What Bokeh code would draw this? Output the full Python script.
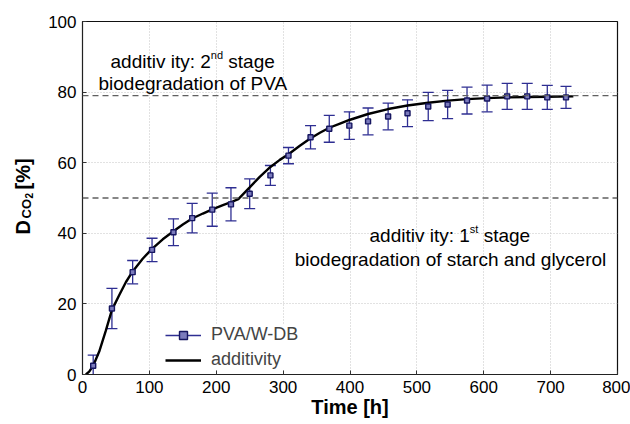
import math
from bokeh.plotting import figure
from bokeh.layouts import row
from bokeh.models import Label, Span, Legend, LegendItem, FixedTicker, Range1d
from bokeh.core.properties import value
from bokeh.embed import file_html
from bokeh.resources import INLINE

# ---- data ----
hours = [16, 44, 75, 104, 136, 164, 194, 222, 250, 281, 308, 341, 369, 399, 427,
         457, 486, 517, 546, 575, 605, 635, 665, 695, 723]
dco2 = [2.5, 18.7, 29.0, 35.3, 40.3, 44.3, 46.7, 48.2, 51.2, 56.4, 62.0, 67.2, 69.6,
        70.5, 71.7, 73.1, 74.0, 75.9, 76.5, 77.6, 78.2, 78.8, 78.8, 78.5, 78.5]
dco2_err = [3.0, 5.7, 3.3, 3.3, 3.8, 4.2, 4.7, 4.7, 4.2, 2.8, 2.3, 3.3, 3.8, 3.9, 3.8,
            3.8, 3.8, 4.0, 4.0, 3.8, 3.8, 3.7, 3.7, 3.4, 3.1]

add_t = [5, 10, 16, 25, 35, 44, 55, 65, 75, 90, 104, 120, 136, 150, 164, 180, 194,
         210, 222, 233, 250, 265, 281, 295, 308, 325, 340, 355, 369, 385, 399, 427,
         457, 486, 517, 546, 575, 605, 635, 665, 695, 734]
add_v = [0.0, 0.8, 2.5, 6.5, 12.5, 18.3, 22.5, 26.2, 29.2, 32.8, 35.6, 38.3, 40.6,
         42.5, 44.2, 45.6, 46.8, 48.0, 48.8, 49.7, 53.0, 56.0, 58.8, 60.8, 62.4,
         64.8, 66.8, 68.5, 69.9, 71.1, 72.1, 73.8, 75.2, 76.2, 77.0, 77.6, 78.0,
         78.3, 78.5, 78.6, 78.7, 78.8]

stage_levels = [79, 50]
x_ticks = [0, 100, 200, 300, 400, 500, 600, 700, 800]
y_ticks = [0, 20, 40, 60, 80, 100]

FONT = "Liberation Sans"
NAVY = "#2e2e92"
LW = 40  # width of the strip holding the y-axis title

p = figure(width=630 - LW, height=424, x_range=(0, 800), y_range=(0, 100),
           output_backend="svg", toolbar_location=None,
           min_border_left=82 - LW, min_border_right=13, min_border_top=21,
           min_border_bottom=50)
p.background_fill_color = "white"
p.border_fill_color = "white"
p.outline_line_color = "#111111"
p.outline_line_width = 1.2

for ax, ticks in ((p.xaxis, x_ticks), (p.yaxis, y_ticks)):
    ax.ticker = FixedTicker(ticks=ticks)
    ax.major_tick_in = 4
    ax.major_tick_out = 0
    ax.minor_tick_line_color = None
    ax.major_label_text_font = FONT
    ax.major_label_text_font_size = "17px"
    ax.major_label_text_color = "black"
    ax.major_label_standoff = 6
    ax.axis_line_color = "#222222"
    ax.major_tick_line_color = "#333333"

p.xaxis.axis_label = "Time [h]"
p.xaxis.axis_label_text_font = FONT
p.xaxis.axis_label_text_font_size = "20px"
p.xaxis.axis_label_text_font_style = "bold"
p.xaxis.axis_label_text_color = "black"
p.xaxis.axis_label_standoff = 0

p.xgrid.ticker = FixedTicker(ticks=x_ticks)
p.ygrid.ticker = FixedTicker(ticks=y_ticks)
for g in (p.xgrid, p.ygrid):
    g.grid_line_color = "#c4c4c4"
    g.grid_line_dash = "1 2"
    g.grid_line_width = 1

for lvl in stage_levels:
    p.add_layout(Span(location=lvl, dimension="width", line_color="#606060",
                      line_dash="6 4", line_width=1.3))

lo = [v - e for v, e in zip(dco2, dco2_err)]
hi = [v + e for v, e in zip(dco2, dco2_err)]

stem_r = p.segment(x0=hours, y0=lo, x1=hours, y1=hi, line_color=NAVY, line_width=1.3)
p.scatter(hours, hi, marker="dash", size=11, line_color=NAVY, line_width=1.3)
p.scatter(hours, lo, marker="dash", size=11, line_color=NAVY, line_width=1.3)
line_r = p.line(add_t, add_v, line_color="black", line_width=2.4)
mark_r = p.scatter(hours, dco2, marker="square", size=5, line_color="#161660",
                   line_width=1.4, fill_color="#7a7abc")

legend = Legend(items=[LegendItem(label="PVA/W-DB", renderers=[stem_r, mark_r]),
                       LegendItem(label="additivity", renderers=[line_r])],
                location=(83, 4), border_line_color=None, background_fill_color="white",
                background_fill_alpha=1.0, label_text_font=FONT,
                label_text_font_size="18px", glyph_width=36, glyph_height=20,
                label_height=20, label_standoff=10, padding=0, spacing=4, margin=0)
p.add_layout(legend)

# page pixel -> data helpers for text placement (frame 82..617 x, 21..374 y)
def dx(px):
    return (px - 82) / (535 / 800)

def dy(py):
    return (374 - py) / (353 / 100)

def lab(text, px, py, size, x_offset=0.0, align="left"):
    p.add_layout(Label(x=dx(px), y=dy(py), text=text, text_font=FONT,
                       text_font_size=f"{size}px", text_align=align,
                       text_baseline="alphabetic", x_offset=x_offset,
                       text_color="black"))

M, S = 19, 11
w_main = 5.28 * M
w_space = 0.278 * M
# 2nd stage text
lab("additiv ity: 2", 110, 61, M)
lab("nd", 110, 54, S, x_offset=w_main)
lab("stage", 110, 61, M, x_offset=w_main + 1.112 * S + w_space)
lab("biodegradation of PVA", 98, 83, M)
# 1st stage text
lab("additiv ity: 1", 369, 235, M)
lab("st", 369, 228, S, x_offset=w_main)
lab("stage", 369, 235, M, x_offset=w_main + 0.778 * S + w_space)
lab("biodegradation of starch and glycerol", 450, 259, M, align="center")

# ---- left strip with the rotated y-axis title (page pixel coordinates) ----
# its frame is aligned with the main frame (page y 21..374) by the row layout
yl = figure(width=LW, height=424, x_range=Range1d(0, LW), y_range=Range1d(374, 21),
            output_backend="svg", toolbar_location=None, min_border=0)
yl.axis.visible = False
yl.grid.visible = False
yl.outline_line_color = None
yl.background_fill_color = "white"
yl.border_fill_color = "white"

title_parts = ["D", "CO", "2", "[%]"]
title_x = [22, 26, 28, 22]
title_y = [234, 218, 198, 189]
title_sizes = ["20px", "13px", "10px", "20px"]
for t, x, y, s in zip(title_parts, title_x, title_y, title_sizes):
    yl.text(x=[x], y=[y], text=[t], angle=math.pi / 2, text_font=value(FONT),
            text_font_size=s, text_font_style="bold", text_align="left",
            text_baseline="alphabetic", text_color="black")

layout = row(yl, p)
open("out.html", "w").write(file_html(layout, INLINE))
